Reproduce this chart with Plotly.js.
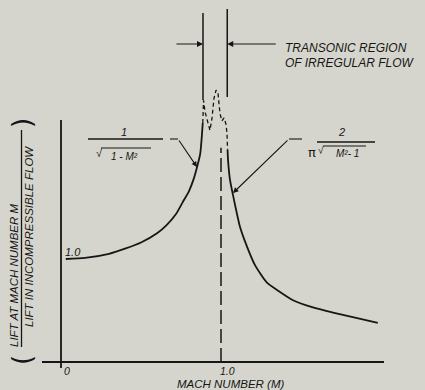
<!DOCTYPE html>
<html><head><meta charset="utf-8">
<script src="https://cdn.plot.ly/plotly-3.0.1.min.js"></script>
<style>html,body{margin:0;padding:0;background:#d5d5cd;}#chart{width:425px;height:390px;}</style>
</head><body><div id="chart"></div>
<script>
// ---- Values ----
const subsonicMach = [0.03, 0.15, 0.30, 0.40, 0.50, 0.60, 0.66, 0.72, 0.76, 0.80, 0.83, 0.85, 0.87, 0.886];
const subsonicLift = [1.00, 1.01, 1.05, 1.10, 1.16, 1.25, 1.33, 1.44, 1.55, 1.66, 1.78, 1.89, 2.02, 2.32];

const transonicMach = [0.886, 0.891, 0.900, 0.919, 0.931, 0.944, 0.956, 0.969, 0.981, 0.988, 0.994, 1.006, 1.019, 1.031, 1.0375, 1.041];
const transonicLift = [2.32, 2.54, 2.43, 2.31, 2.25, 2.37, 2.56, 2.64, 2.62, 2.50, 2.41, 2.34, 2.37, 2.31, 2.22, 2.06];

const supersonicMach = [1.041, 1.044, 1.056, 1.075, 1.094, 1.119, 1.1625, 1.2125, 1.2875, 1.369, 1.45, 1.575, 1.70, 1.8375, 1.98];
const supersonicLift = [2.06, 1.96, 1.77, 1.62, 1.48, 1.31, 1.12, 0.94, 0.77, 0.68, 0.60, 0.53, 0.48, 0.43, 0.38];

const xTickVals = [0, 1.0];
const xTickText = ["0", "1.0"];
const yTickVals = [1.0];
const yTickText = ["1.0"];

const soundBarrierMach = 1.0;
const soundBarrierTop = 2.08;
const transonicBounds = [0.8875, 1.039];

const xTitle = "MACH NUMBER (M)";
const yTitleTop = "LIFT AT MACH NUMBER M";
const yTitleBottom = "LIFT IN INCOMPRESSIBLE FLOW";
const regionLabel = ["TRANSONIC REGION", "OF IRREGULAR FLOW"];

// ---- Layout geometry ----
const INK = '#161616';
const BG = '#d5d5cd';
const L = 42, R = 384, T = 5, B = 368;
const xr = [-0.11875, 2.01875];
const yr = [-6/103, 357/103];
const px = p => (p - L) / (R - L);          // pixel x -> paper
const py = p => (B - p) / (B - T);          // pixel y -> paper

const font = (size) => ({family: 'Liberation Sans, Arial, sans-serif', size: size, color: INK, style: 'italic'});

const traces = [
  {x: subsonicMach, y: subsonicLift, mode: 'lines', line: {color: INK, width: 1.8, shape: 'spline', smoothing: 0.6}, hoverinfo: 'skip'},
  {x: transonicMach, y: transonicLift, mode: 'lines', line: {color: INK, width: 1.3, dash: '4px,3px'}, hoverinfo: 'skip'},
  {x: supersonicMach, y: supersonicLift, mode: 'lines', line: {color: INK, width: 1.8, shape: 'spline', smoothing: 0.6}, hoverinfo: 'skip'}
];

const shapes = [
  // axes
  {type: 'line', xref: 'x', yref: 'paper', x0: 0, x1: 0, y0: 0, y1: py(120), line: {color: INK, width: 1.8}},
  {type: 'line', xref: 'paper', yref: 'y', x0: 0, x1: 1, y0: 0, y1: 0, line: {color: INK, width: 1.8}},
  // M = 1 dashed line
  {type: 'line', xref: 'x', yref: 'y', x0: soundBarrierMach, x1: soundBarrierMach, y0: 0, y1: soundBarrierTop, line: {color: INK, width: 1.5, dash: '14px,5px'}},
  // transonic region bounds
  {type: 'line', xref: 'x', yref: 'paper', x0: transonicBounds[0], x1: transonicBounds[0], y0: py(100), y1: py(13), line: {color: INK, width: 1.5}},
  {type: 'line', xref: 'x', yref: 'paper', x0: transonicBounds[1], x1: transonicBounds[1], y0: py(97), y1: py(9), line: {color: INK, width: 1.5}},
  // y-title fraction bar
  {type: 'line', xref: 'paper', yref: 'paper', x0: px(21.5), x1: px(21.5), y0: py(347), y1: py(130), line: {color: INK, width: 1.3}},
  // left formula bar, overline, leader
  {type: 'line', xref: 'paper', yref: 'paper', x0: px(88), x1: px(163), y0: py(139), y1: py(139), line: {color: INK, width: 1.5}},
  {type: 'line', xref: 'paper', yref: 'paper', x0: px(101), x1: px(151), y0: py(148), y1: py(148), line: {color: INK, width: 1.1}},
  {type: 'line', xref: 'paper', yref: 'paper', x0: px(170), x1: px(178), y0: py(139), y1: py(139), line: {color: INK, width: 1.1}},
  // right formula bar, overline, leader
  {type: 'line', xref: 'paper', yref: 'paper', x0: px(317), x1: px(375), y0: py(142), y1: py(142), line: {color: INK, width: 1.5}},
  {type: 'line', xref: 'paper', yref: 'paper', x0: px(323), x1: px(366), y0: py(146), y1: py(146), line: {color: INK, width: 1.0}},
  {type: 'line', xref: 'paper', yref: 'paper', x0: px(289), x1: px(302), y0: py(139), y1: py(139), line: {color: INK, width: 1.1}}
];

const ann = [];
// tick labels
xTickVals.forEach((v, i) => ann.push({xref: 'x', yref: 'paper', x: v, y: py(370.5), xshift: 6, text: xTickText[i], showarrow: false, font: font(10.5), xanchor: 'center', yanchor: 'middle'}));
yTickVals.forEach((v, i) => ann.push({xref: 'paper', yref: 'y', x: px(73), y: v, yshift: 7, text: yTickText[i], showarrow: false, font: font(11), xanchor: 'center', yanchor: 'middle'}));
// axis titles
ann.push({xref: 'paper', yref: 'paper', x: px(230), y: py(383.5), text: xTitle, showarrow: false, font: font(11.5), xanchor: 'center', yanchor: 'middle'});
ann.push({xref: 'paper', yref: 'paper', x: px(14), y: py(275), text: yTitleTop, textangle: -90, showarrow: false, font: font(11.5), xanchor: 'center', yanchor: 'middle'});
ann.push({xref: 'paper', yref: 'paper', x: px(29), y: py(237), text: yTitleBottom, textangle: -90, showarrow: false, font: font(11.5), xanchor: 'center', yanchor: 'middle'});
ann.push({xref: 'paper', yref: 'paper', x: px(22), y: py(360), text: '(', textangle: -90, showarrow: false, font: {family: 'DejaVu Sans', size: 26, color: INK}, xanchor: 'center', yanchor: 'middle'});
ann.push({xref: 'paper', yref: 'paper', x: px(22), y: py(123), text: ')', textangle: -90, showarrow: false, font: {family: 'DejaVu Sans', size: 26, color: INK}, xanchor: 'center', yanchor: 'middle'});
// region label
ann.push({xref: 'paper', yref: 'paper', x: px(283), y: py(47.5), text: regionLabel[0], showarrow: false, font: font(12), xanchor: 'left', yanchor: 'middle'});
ann.push({xref: 'paper', yref: 'paper', x: px(283), y: py(62.5), text: regionLabel[1], showarrow: false, font: font(12), xanchor: 'left', yanchor: 'middle'});
// region arrows
ann.push({xref: 'x', yref: 'paper', x: transonicBounds[0], y: py(44), ax: -28, ay: 0, text: '', showarrow: true, arrowhead: 2, arrowsize: 1, arrowwidth: 1.2, arrowcolor: INK});
ann.push({xref: 'x', yref: 'paper', x: transonicBounds[1], y: py(44), ax: 50, ay: 0, text: '', showarrow: true, arrowhead: 2, arrowsize: 1, arrowwidth: 1.2, arrowcolor: INK});
// left formula 1/sqrt(1-M^2)
ann.push({xref: 'paper', yref: 'paper', x: px(124), y: py(132), text: '1', showarrow: false, font: font(11), xanchor: 'center', yanchor: 'middle'});
ann.push({xref: 'paper', yref: 'paper', x: px(99), y: py(153), text: '√', showarrow: false, font: font(11), xanchor: 'center', yanchor: 'middle'});
ann.push({xref: 'paper', yref: 'paper', x: px(124), y: py(156), text: '1 - M²', showarrow: false, font: font(10), xanchor: 'center', yanchor: 'middle'});
ann.push({xref: 'paper', yref: 'paper', x: px(197), y: py(167), ax: -19, ay: -28, text: '', showarrow: true, arrowhead: 2, arrowsize: 1, arrowwidth: 1.1, arrowcolor: INK});
// right formula 2/(pi sqrt(M^2-1))
ann.push({xref: 'paper', yref: 'paper', x: px(341), y: py(132), text: '2', showarrow: false, font: font(11), xanchor: 'center', yanchor: 'middle'});
ann.push({xref: 'paper', yref: 'paper', x: px(312), y: py(152), text: 'π', showarrow: false, font: {family: 'DejaVu Sans', size: 13, color: INK}, xanchor: 'center', yanchor: 'middle'});
ann.push({xref: 'paper', yref: 'paper', x: px(321), y: py(150), text: '√', showarrow: false, font: font(10), xanchor: 'center', yanchor: 'middle'});
ann.push({xref: 'paper', yref: 'paper', x: px(347), y: py(153), text: 'M²- 1', showarrow: false, font: font(10), xanchor: 'center', yanchor: 'middle'});
ann.push({xref: 'paper', yref: 'paper', x: px(233), y: py(193), ax: 56, ay: -54, text: '', showarrow: true, arrowhead: 2, arrowsize: 1, arrowwidth: 1.1, arrowcolor: INK});

const layout = {
  width: 425, height: 390,
  margin: {l: L, r: 425 - R, t: T, b: 390 - B, pad: 0},
  paper_bgcolor: BG, plot_bgcolor: BG,
  showlegend: false,
  xaxis: {range: xr, showgrid: false, zeroline: false, showline: false, showticklabels: false, ticks: '', fixedrange: true},
  yaxis: {range: yr, showgrid: false, zeroline: false, showline: false, showticklabels: false, ticks: '', fixedrange: true},
  shapes: shapes,
  annotations: ann
};

Plotly.newPlot('chart', traces, layout, {displayModeBar: false, staticPlot: true});
</script>
</body></html>
